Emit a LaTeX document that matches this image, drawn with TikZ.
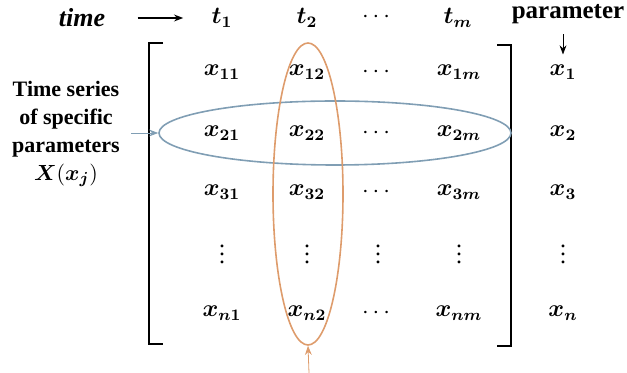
\documentclass[tikz,border=0pt]{standalone}
\usepackage{fontspec}
\setmainfont{Liberation Serif}
\usepackage{amsmath,bm}
\usetikzlibrary{arrows.meta,positioning,shapes.geometric}
\definecolor{rowblue}{RGB}{128,158,180}
\definecolor{colorange}{RGB}{222,156,108}
\tikzset{
  entry/.style = {font=\fontsize{12}{14}\selectfont, inner sep=1pt},
  label/.style = {font=\fontsize{11}{12.5}\selectfont\bfseries, align=center, inner sep=1pt},
  flow/.style  = {-{Stealth[length=1.6mm,width=1.2mm]}, thick},
  bracket/.style = {line width=1.4pt},
}
\newcommand{\bx}[1]{$\bm{x}_{\bm{#1}}$}
\begin{document}
\begin{tikzpicture}[x=0.5pt, y=-0.5pt]
  \useasboundingbox (0,0) rectangle (627,373);

  % header line
  \node[label, font=\fontsize{13}{14}\selectfont\bfseries\itshape] (time) at (82,18) {time};
  \node[entry] (t1) at (222,18) {$\bm{t}_{\bm{1}}$};
  \node[entry] (t2) at (307,18) {$\bm{t}_{\bm{2}}$};
  \node[entry] (tdots) at (378,17) {$\cdots$};
  \node[entry] (tm) at (458,18) {$\bm{t}_{\bm{m}}$};
  \node[label, font=\fontsize{12.5}{14}\selectfont\bfseries] (par) at (568,14) {parameter};

  % matrix entries
  \foreach \r/\y in {1/72, 2/133, 3/192, n/313} {
    \node[entry] (x\r1) at (222,\y) {\bx{\r1}};
    \node[entry] (x\r2) at (307,\y) {\bx{\r2}};
    \node[entry] (x\r3) at (378,\y) {$\cdots$};
    \node[entry] (x\r4) at (459,\y) {\bx{\r m}};
    \node[entry] (p\r) at (563,\y) {\bx{\r}};
  }
  \foreach \c/\x in {1/222, 2/307, 3/378, 4/459} {
    \node[entry, inner sep=0pt] (v\c) at (\x,248) {$\vdots$};
  }
  \node[entry, inner sep=0pt] (pv) at (563,248) {$\vdots$};

  % brackets
  \draw[bracket] (163,43) -- (149,43) -- (149,344) -- (163,344);
  \draw[bracket] (497,45) -- (511,45) -- (511,346) -- (497,346);

  % highlighted row and column
  \node[ellipse, draw=rowblue, thick, minimum width=176pt,
        minimum height=32pt, inner sep=0pt] (row) at (335,133) {};
  \node[ellipse, draw=colorange, thick, minimum width=35pt,
        minimum height=151pt, inner sep=0pt] (col) at (308,194) {};

  % left text
  \node[label] (ts) at (66,134) {Time series\\[1.5pt]of specific\\[1.5pt]parameters\\[1.5pt]$\bm{X}\mathbf{(}\bm{x}_{\bm{j}}\mathbf{)}$};

  \coordinate (rowin) at (131,133);
  \coordinate (colin) at (309,373);

  \draw[flow, shorten <=15pt, shorten >=13pt] (time) -- (t1);
  \draw[flow, shorten <=4pt, shorten >=4pt, thin] (p1.north |- par.south) -- (p1);
  \draw[flow, rowblue, thin] (rowin) -- (row.west);
  \draw[flow, colorange, thin] (colin) -- (col.south);
\end{tikzpicture}
\end{document}
